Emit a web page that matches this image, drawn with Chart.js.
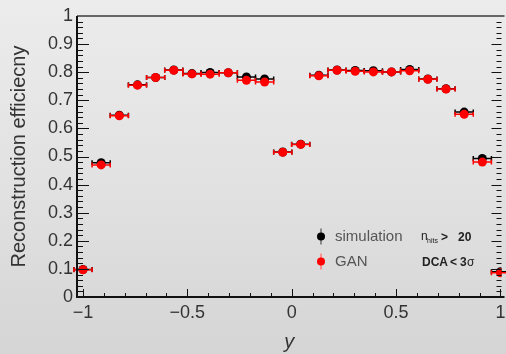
<!DOCTYPE html>
<html>
<head>
<meta charset="utf-8">
<script src="https://cdn.jsdelivr.net/npm/chart.js@4/dist/chart.umd.min.js"></script>
<style>
    html, body { margin: 0; padding: 0; }
    #wrap {
        width: 506px; height: 354px;
        background: linear-gradient(to bottom, #ececec 0%, #e2e2e2 50%, #d5d5d5 100%);
    }
</style>
</head>
<body>
<div id="wrap"><canvas id="effChart" width="506" height="354"></canvas></div>
<script>
// bin centres in rapidity y
const yBins = [-1, -0.913, -0.826, -0.739, -0.652, -0.565, -0.478, -0.391, -0.304, -0.217, -0.13, -0.043,
               0.043, 0.13, 0.217, 0.304, 0.391, 0.478, 0.565, 0.652, 0.739, 0.826, 0.913, 1];
const binHalfWidth = 0.0435;

// efficiencies
const simEff = [0.098, 0.478, 0.647, 0.755, 0.781, 0.808, 0.795, 0.799, 0.798, 0.783, 0.776, 0.516,
                0.544, 0.789, 0.808, 0.806, 0.805, 0.801, 0.810, 0.776, 0.741, 0.658, 0.493, 0.090];
const ganEff = [0.097, 0.470, 0.645, 0.754, 0.781, 0.807, 0.794, 0.793, 0.798, 0.771, 0.765, 0.515,
                0.543, 0.787, 0.807, 0.803, 0.801, 0.801, 0.805, 0.775, 0.740, 0.650, 0.480, 0.086];

const xTicks = [-1, -0.5, 0, 0.5, 1];
const legendLabels = ['simulation', 'GAN'];

const FONT = 'Liberation Sans, Arial, Helvetica, sans-serif';

function toPoints(vals) {
    return yBins.map((x, i) => ({ x: x, y: vals[i] }));
}

function fmt(v) {
    const r = Math.round(v * 10) / 10;
    return String(r).replace('-', '\u2212');
}

// horizontal error bars, drawn just before each dataset's markers
const errorBars = {
    id: 'errorBars',
    beforeDatasetDraw(chart, args) {
        const ctx = chart.ctx;
        const xs = chart.scales.x, ys = chart.scales.y;
        const ds = chart.data.datasets[args.index];
        ctx.save();
        ctx.strokeStyle = ds.backgroundColor;
        ctx.lineWidth = 1.5;
        ds.data.forEach(p => {
            const x0 = xs.getPixelForValue(p.x - binHalfWidth);
            const x1 = xs.getPixelForValue(p.x + binHalfWidth);
            const py = ys.getPixelForValue(p.y);
            ctx.beginPath();
            ctx.moveTo(x0, py); ctx.lineTo(x1, py);
            ctx.moveTo(x0, py - 2.5); ctx.lineTo(x0, py + 2.5);
            ctx.moveTo(x1, py - 2.5); ctx.lineTo(x1, py + 2.5);
            ctx.stroke();
        });
        ctx.restore();
    }
};

// ROOT-like frame with inward ticks, plus legend and cut text
const frame = {
    id: 'frame',
    afterDraw(chart) {
        const ctx = chart.ctx;
        const a = chart.chartArea;
        const xs = chart.scales.x, ys = chart.scales.y;
        ctx.save();
        ctx.lineWidth = 1;
        ctx.strokeStyle = '#111';
        ctx.beginPath();
        for (let i = 0; i <= 50; i++) {
            const v = i / 50;
            const py = Math.round(ys.getPixelForValue(v)) + 0.5;
            const major = i % 5 === 0;
            ctx.moveTo(a.left, py); ctx.lineTo(a.left + (major ? 12 : 6), py);
            ctx.moveTo(a.right, py); ctx.lineTo(a.right - (major ? 10 : 5), py);
        }
        for (let i = -10; i <= 10; i++) {
            const v = i / 10;
            const px = Math.round(xs.getPixelForValue(v)) + 0.5;
            const major = i % 5 === 0;
            ctx.moveTo(px, a.bottom); ctx.lineTo(px, a.bottom - (major ? 8 : 4));
        }
        ctx.stroke();

        ctx.lineWidth = 2;
        ctx.strokeStyle = '#666';
        ctx.beginPath();
        ctx.moveTo(a.left, a.top); ctx.lineTo(a.right + 3, a.top);
        ctx.stroke();
        ctx.strokeStyle = '#111';
        ctx.beginPath();
        ctx.moveTo(a.left, a.top); ctx.lineTo(a.left, a.bottom); ctx.lineTo(a.right + 3, a.bottom);
        ctx.stroke();

        // legend
        const items = [
            { label: legendLabels[0], color: '#000', bar: '#888', y: 236.5 },
            { label: legendLabels[1], color: '#ff0000', bar: '#ff9090', y: 261.5 }
        ];
        items.forEach(it => {
            ctx.strokeStyle = it.bar;
            ctx.lineWidth = 2;
            ctx.beginPath();
            ctx.moveTo(321, it.y - 8); ctx.lineTo(321, it.y + 8);
            ctx.stroke();
            ctx.fillStyle = it.color;
            ctx.beginPath();
            ctx.arc(321, it.y, 4, 0, Math.PI * 2);
            ctx.fill();
            ctx.fillStyle = '#555';
            ctx.font = '15px ' + FONT;
            ctx.textBaseline = 'middle';
            ctx.textAlign = 'left';
            ctx.fillText(it.label, 335, it.y);
        });

        // cut labels
        ctx.fillStyle = '#222';
        ctx.textBaseline = 'alphabetic';
        ctx.font = '12px ' + FONT;
        ctx.fillText('n', 421, 240);
        ctx.font = '7px ' + FONT;
        ctx.fillText('hits', 427, 243);
        ctx.font = 'bold 12px ' + FONT;
        ctx.fillText('>', 441, 241);
        ctx.fillText('20', 458, 241);
        ctx.fillText('DCA', 422, 266);
        ctx.fillText('<', 450, 266);
        ctx.fillText('3', 460, 266);
        ctx.font = '12px ' + FONT;
        ctx.fillText('\u03c3', 467, 266);
        ctx.restore();
    }
};

new Chart(document.getElementById('effChart'), {
    type: 'scatter',
    data: {
        datasets: [
            {
                label: legendLabels[0],
                data: toPoints(simEff),
                backgroundColor: '#000000',
                borderColor: '#000000',
                pointRadius: 4.5,
                pointBorderWidth: 0,
                order: 2
            },
            {
                label: legendLabels[1],
                data: toPoints(ganEff),
                backgroundColor: '#ff0000',
                borderColor: '#ff0000',
                pointRadius: 4.5,
                pointBorderWidth: 0,
                order: 1
            }
        ]
    },
    options: {
        responsive: false,
        animation: false,
        devicePixelRatio: 1,
        layout: { padding: { top: 16, right: 3, left: 0, bottom: 0 } },
        plugins: {
            legend: { display: false },
            tooltip: { enabled: false }
        },
        scales: {
            x: {
                type: 'linear',
                min: -1.0287,
                max: 1.0048,
                afterBuildTicks: scale => { scale.ticks = xTicks.map(v => ({ value: v })); },
                afterFit: scale => { scale.height = 57; scale.paddingLeft = 0; scale.paddingRight = 0; },
                grid: { display: false, drawTicks: false },
                border: { display: false },
                ticks: {
                    font: { family: FONT, size: 18 },
                    color: '#333',
                    padding: 5,
                    maxRotation: 0,
                    autoSkip: false,
                    callback: v => fmt(v)
                },
                title: {
                    display: true,
                    text: 'y',
                    font: { family: FONT, size: 20, style: 'italic' },
                    color: '#333',
                    padding: { top: 0, bottom: 0 }
                }
            },
            y: {
                min: 0,
                max: 1,
                afterFit: scale => { scale.width = 77; },
                grid: { display: false, drawTicks: false },
                border: { display: false },
                ticks: {
                    stepSize: 0.1,
                    font: { family: FONT, size: 18 },
                    color: '#333',
                    padding: 4,
                    autoSkip: false,
                    callback: v => fmt(v)
                },
                title: {
                    display: true,
                    text: 'Reconstruction efficiecny',
                    font: { family: FONT, size: 20 },
                    color: '#333',
                    padding: { top: 7, bottom: 0 }
                }
            }
        }
    },
    plugins: [errorBars, frame]
});
</script>
</body>
</html>
